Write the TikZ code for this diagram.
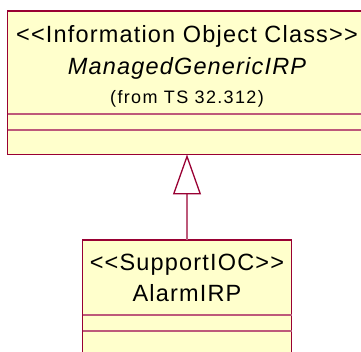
\documentclass[tikz,border=0pt]{standalone}
\usepackage{fontspec}
\newfontfamily\umlfont[LetterSpace=5.0]{Liberation Sans}
\newfontfamily\umlsmallfont[LetterSpace=7.5]{Liberation Sans}
\usetikzlibrary{arrows.meta, positioning}
\definecolor{umlred}{RGB}{153,0,51}
\definecolor{umlfill}{RGB}{255,255,204}
\def\topw{359pt}
\def\toph{143.5pt}
\def\botw{209pt}
\def\both{130pt}
\tikzset{
    classbox/.style = {
        draw=umlred, fill=umlfill, rectangle, line width=1.5pt, inner sep=0pt, outer sep=0pt
    },
    sepline/.style = {draw=umlred!65!white, line width=1.1pt},
    bigtext/.style = {font=\umlfont\fontsize{23.5}{28}\selectfont, anchor=base, inner sep=0pt},
    nametext/.style = {font=\umlfont\itshape\fontsize{23.5}{28}\selectfont, anchor=base, inner sep=0pt},
    smalltext/.style = {font=\umlsmallfont\fontsize{18}{22}\selectfont, anchor=base, inner sep=0pt},
    genline/.style = {
        draw=umlred!65!white, line width=1.1pt,
        -{Triangle[color=umlred, open, length=40pt, width=28pt, line width=1.3pt]}
    },
}

\begin{document}
\begin{tikzpicture}
    \useasboundingbox (0,0) rectangle (361pt,-352pt);
    \clip (0,0) rectangle (361pt,-352pt);
    % Place the classes
    \node[classbox, minimum width=\topw, minimum height=\toph] (mgirp) at (187pt,-82.75pt) {};
    \node[classbox, minimum width=\botw, minimum height=\both, below=85.5pt of mgirp] (alarm) {};
    % Class texts
    \node[bigtext] (mgirp-st) at ([yshift=-32pt] mgirp.north) {<<Information Object Class>>};
    \node[nametext] (mgirp-name) at ([yshift=-64pt] mgirp.north) {ManagedGenericIRP};
    \node[smalltext] (mgirp-from) at ([yshift=-93pt] mgirp.north) {(from TS 32.312)};
    \node[bigtext] (alarm-st) at ([yshift=-30.7pt] alarm.north) {<<SupportIOC>>};
    \node[bigtext] (alarm-name) at ([yshift=-61.7pt] alarm.north) {AlarmIRP};
    % Compartments
    \foreach \d in {103, 119}{
        \draw[sepline] ([yshift=-\d pt] mgirp.north west) -- ([yshift=-\d pt] mgirp.north east);
    }
    \foreach \d in {75, 91}{
        \draw[sepline] ([yshift=-\d pt] alarm.north west) -- ([yshift=-\d pt] alarm.north east);
    }
    % Generalization
    \draw[genline] (alarm.north) -- (mgirp.south);
\end{tikzpicture}
\end{document}
